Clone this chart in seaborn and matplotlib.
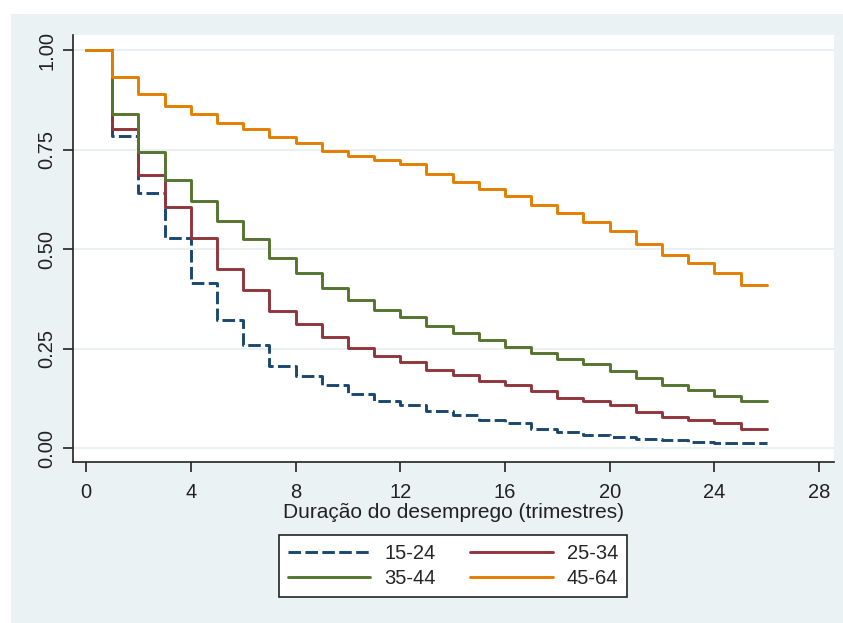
import seaborn as sns
import matplotlib.pyplot as plt
import matplotlib.patches as mpatches
import pandas as pd
import numpy as np

# survival estimates by age group, value held on [t, t+1)
trimestres = list(range(0, 27))
s_15_24 = [1.0, .784, .640, .529, .416, .322, .259, .207, .182, .158, .135, .118, .108,
           .094, .083, .070, .062, .049, .041, .034, .028, .024, .020, .016, .012, .012, .012]
s_25_34 = [1.0, .803, .686, .606, .529, .450, .397, .344, .313, .280, .251, .231, .216,
           .196, .183, .168, .158, .144, .127, .119, .108, .091, .079, .070, .062, .049, .049]
s_35_44 = [1.0, .839, .743, .673, .621, .570, .525, .478, .440, .401, .372, .347, .329,
           .308, .288, .271, .255, .239, .224, .211, .194, .177, .158, .146, .131, .118, .118]
s_45_64 = [1.0, .933, .889, .860, .839, .816, .801, .781, .767, .747, .734, .724, .713,
           .688, .668, .651, .634, .611, .591, .567, .546, .514, .485, .464, .440, .410, .410]

grupos = ['15-24', '25-34', '35-44', '45-64']
cores = ['#1a476f', '#90353b', '#55752f', '#e37e00']

x_ticks = [0, 4, 8, 12, 16, 20, 24, 28]
y_ticks = [0.0, 0.25, 0.5, 0.75, 1.0]
y_labels = ['0.00', '0.25', '0.50', '0.75', '1.00']

# long dataframe for seaborn
df = pd.concat([
    pd.DataFrame({'t': trimestres, 's': vals, 'grupo': g})
    for g, vals in zip(grupos, [s_15_24, s_25_34, s_35_44, s_45_64])
], ignore_index=True)

sns.set_style("white")
plt.rcParams['font.family'] = ['Liberation Sans', 'DejaVu Sans']

fig = plt.figure(figsize=(8.43, 6.23), dpi=100, facecolor='white')
# stata-like graph region
fig.patches.append(mpatches.Rectangle((11 / 843, 0), 1, 1 - 14 / 623, transform=fig.transFigure,
                                      facecolor='#eaf2f3', edgecolor='none', zorder=-10))
ax = fig.add_axes([73 / 843, 1 - 462 / 623, (834 - 73) / 843, (462 - 35) / 623])
ax.set_facecolor('white')

sns.lineplot(data=df, x='t', y='s', hue='grupo', style='grupo', palette=cores,
             dashes={'15-24': (4.3, 1.5), '25-34': '', '35-44': '', '45-64': ''},
             drawstyle='steps-post', estimator=None, linewidth=2.1, ax=ax, legend=False)

ax.set_xlim(-0.5, 28.57)
ax.set_ylim(-0.035, 1.038)
ax.set_xticks(x_ticks)
ax.set_yticks(y_ticks)
ax.set_yticklabels(y_labels, rotation=90, va='center')
ax.tick_params(axis='both', direction='out', length=7, width=1.2, colors='#222222',
               labelsize=14.5, left=True, bottom=True)
ax.tick_params(axis='x', pad=8)
ax.tick_params(axis='y', pad=5)
ax.grid(axis='y', color='#e6eeef', linewidth=1.2)
ax.grid(axis='x', visible=False)
ax.set_axisbelow(True)
for side in ['top', 'right']:
    ax.spines[side].set_visible(False)
for side in ['left', 'bottom']:
    ax.spines[side].set_color('#222222')
    ax.spines[side].set_linewidth(1.2)

ax.set_xlabel('Duração do desemprego (trimestres)', fontsize=15, labelpad=1, color='#222222')
ax.set_ylabel('')

# legend filled row by row like the original
ordem = ['15-24', '35-44', '25-34', '45-64']
handles = [plt.Line2D([], [], color=cores[grupos.index(g)], linewidth=2.1,
                      linestyle=(0, (4.3, 1.5)) if g == '15-24' else '-')
           for g in ordem]
leg = fig.legend(handles, ordem, loc='center', bbox_to_anchor=(453 / 843, 1 - 566 / 623),
                 bbox_transform=fig.transFigure, ncol=2, fontsize=14.5, frameon=True,
                 fancybox=False, framealpha=1, edgecolor='#222222', handlelength=4.1,
                 handletextpad=0.7, columnspacing=1.7, labelspacing=0.3, borderpad=0.45)
leg.get_frame().set_linewidth(1.2)

plt.savefig('out.png', dpi=100, facecolor=fig.get_facecolor())
